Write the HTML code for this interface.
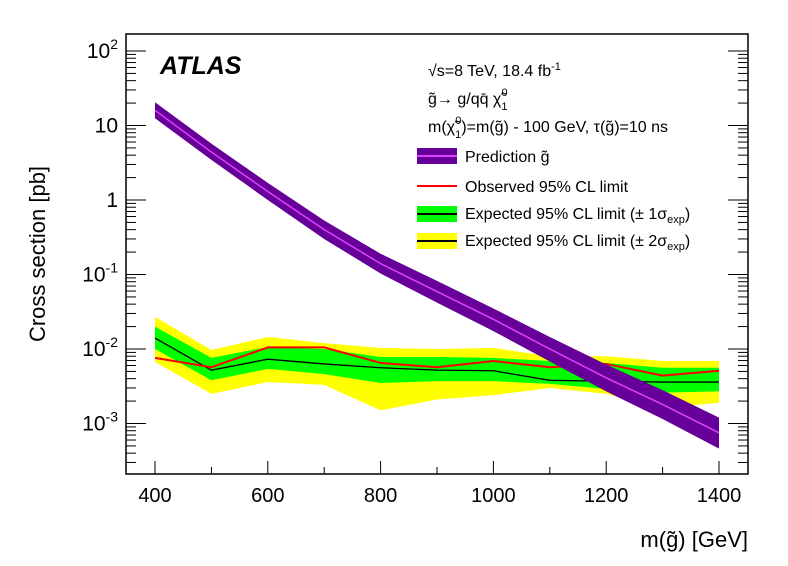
<!DOCTYPE html>
<html><head><meta charset="utf-8"><style>
body{margin:0;background:#fff;}
svg{display:block;font-family:"Liberation Sans",Arial,sans-serif;}
</style></head><body>
<svg id="c" width="788" height="566" viewBox="0 0 788 566">
<g id="bands"></g>
<rect x="126" y="34" width="622" height="440" fill="none" stroke="#000" stroke-width="1.5"/>
<g id="axes"></g>
<text x="160" y="74" font-size="25" font-weight="bold" font-style="italic">ATLAS</text>
<g font-size="16">
<text x="428" y="76">√s=8 TeV, 18.4 fb<tspan dy="-6" font-size="11">-1</tspan></text>
<text x="428" y="104">g̃→ g/qq̄ χ̃<tspan dy="6" font-size="11">1</tspan><tspan dx="-6" dy="-14" font-size="11">0</tspan></text>
<text x="428" y="132">m(χ̃<tspan dy="6" font-size="11">1</tspan><tspan dx="-6" dy="-14" font-size="11">0</tspan><tspan dy="8">)=m(g̃) - 100 GeV, τ(g̃)=10 ns</tspan></text>
</g>
<g font-size="16">
<g><rect x="417" y="148" width="40" height="16" fill="#660099"/><line x1="417" y1="156" x2="457" y2="156" stroke="#e040ff" stroke-width="2"/><text x="465" y="162">Prediction g̃</text></g>
<g><line x1="417" y1="186" x2="457" y2="186" stroke="#ff0000" stroke-width="2"/><text x="465" y="192">Observed 95% CL limit</text></g>
<g><rect x="417" y="206" width="40" height="16" fill="#00ff00"/><line x1="417" y1="214" x2="457" y2="214" stroke="#000" stroke-width="2"/><text x="465" y="219">Expected 95% CL limit (± 1σ<tspan dy="4" font-size="11">exp</tspan><tspan dy="-4">)</tspan></text></g>
<g><rect x="417" y="233" width="40" height="16" fill="#ffff00"/><line x1="417" y1="241" x2="457" y2="241" stroke="#000" stroke-width="2"/><text x="465" y="246">Expected 95% CL limit (± 2σ<tspan dy="4" font-size="11">exp</tspan><tspan dy="-4">)</tspan></text></g>
</g>
<text transform="translate(45,254) rotate(-90)" text-anchor="middle" font-size="22">Cross section [pb]</text>
<text x="748" y="547" text-anchor="end" font-size="22">m(g̃) [GeV]</text>
</svg>
<script>
const masses=[400,500,600,700,800,900,1000,1100,1200,1300,1400];
const observed=[0.0076,0.0057,0.0105,0.0105,0.0065,0.0057,0.0069,0.0057,0.0063,0.0044,0.0051];
const expected=[0.014,0.0052,0.0073,0.0063,0.0056,0.0052,0.0051,0.0038,0.0037,0.0036,0.0036];
const exp1Up=[0.020,0.0076,0.0106,0.010,0.0078,0.0078,0.0076,0.0069,0.0065,0.0056,0.0056];
const exp1Down=[0.010,0.0038,0.0054,0.0046,0.0035,0.0037,0.0037,0.0034,0.0029,0.0026,0.0027];
const exp2Up=[0.027,0.0097,0.0145,0.012,0.0103,0.010,0.0103,0.008,0.008,0.0069,0.0069];
const exp2Down=[0.0067,0.0025,0.0036,0.0033,0.0015,0.0021,0.0024,0.0030,0.0025,0.0016,0.0019];
const prediction=[16,4.4,1.3,0.40,0.14,0.059,0.025,0.010,0.0041,0.0018,0.00075];
const predUp=[20.5,5.7,1.7,0.53,0.19,0.082,0.035,0.0145,0.0062,0.0028,0.0012];
const predDown=[12.5,3.45,1.0,0.30,0.103,0.042,0.0174,0.0068,0.0027,0.00115,0.00046];
const xTicks=[400,600,800,1000,1200,1400];
const yTickExp=[-3,-2,-1,0,1,2];
const yTickLabels=["10<sup>-3</sup>","10<sup>-2</sup>","10<sup>-1</sup>","1","10","10<sup>2</sup>"];

const NS="http://www.w3.org/2000/svg";
const X=m=>155+(m-400)*0.564;
const Y=v=>349-(Math.log10(v)+2)*74.5;
function mk(tag,attrs,parent){const e=document.createElementNS(NS,tag);for(const k in attrs)e.setAttribute(k,attrs[k]);parent.appendChild(e);return e;}
const bands=document.getElementById('bands'), axes=document.getElementById('axes');
function band(up,dn,fill,name){
  let d=masses.map((m,i)=>(i?'L':'M')+X(m)+','+Y(up[i])).join('');
  for(let i=masses.length-1;i>=0;i--)d+='L'+X(masses[i])+','+Y(dn[i]);
  const p=mk('path',{d:d+'Z',fill:fill},bands);
  
  
}
function line(vals,stroke,w,name){
  const p=mk('path',{d:masses.map((m,i)=>(i?'L':'M')+X(m)+','+Y(vals[i])).join(''),fill:'none',stroke:stroke,'stroke-width':w},bands);
  
  
}
band(exp2Up,exp2Down,'#ffff00','expected-2sigma-band');
band(exp1Up,exp1Down,'#00ff00','expected-1sigma-band');
line(expected,'#000',1.3,'expected-limit-line');
line(observed,'#ff0000',2,'observed-limit-line');
band(predUp,predDown,'#660099','prediction-band');
line(prediction,'#e040ff',1.5,'prediction-line');
for(let m=400;m<=1400;m+=100){
  const major=xTicks.includes(m);
  const t=mk('line',{x1:X(m),x2:X(m),y1:474,y2:474-(major?13:7),stroke:'#000','stroke-width':1},axes);
  
  
}
xTicks.forEach(m=>{
  const t=mk('text',{x:X(m),y:502,'text-anchor':'middle','font-size':20},axes);
  t.textContent=m;
  
  
});
for(let e=-4;e<=2;e++){
  for(let k=1;k<10;k++){
    const v=k*Math.pow(10,e);const y=Y(v);
    if(y<34||y>474)continue;
    const L=k===1?20:10;
    [[126,126+L],[748,748-L]].forEach(([a,b])=>{
      const t=mk('line',{x1:a,x2:b,y1:y,y2:y,stroke:'#000','stroke-width':1},axes);
      
      
    });
  }
}
yTickExp.forEach((e,i)=>{
  const y=Y(Math.pow(10,e));
  const t=mk('text',{x:118,y:y+7,'text-anchor':'end','font-size':21},axes);
  
  
  const lab=yTickLabels[i];
  if(lab.includes('<sup>')){
    const [base,sup]=lab.replace('</sup>','').split('<sup>');
    t.textContent=base;
    const s=mk('tspan',{dy:-9,'font-size':14},t);s.textContent=sup;
  } else t.textContent=lab;
});
</script>
</body></html>
